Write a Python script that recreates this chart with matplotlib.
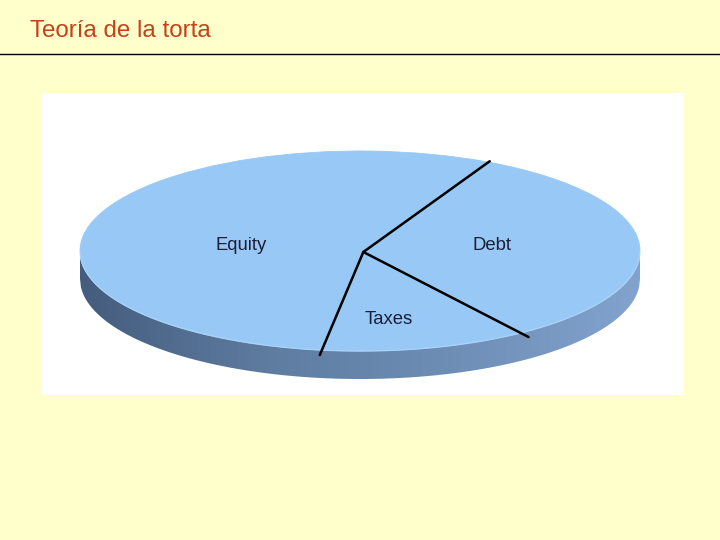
import numpy as np
import matplotlib
matplotlib.use("Agg")
import matplotlib.pyplot as plt
from matplotlib.patches import Rectangle, Polygon
from matplotlib.colors import LinearSegmentedColormap

# ---- data ----
title = "Teoría de la torta"
categories = ["Equity", "Taxes", "Debt"]
shares = [55.4, 11.9, 32.7]          # percent of the pie
start_angle = 62.7                  # degrees, first slice boundary

plt.rcParams['font.family'] = ['Liberation Sans', 'DejaVu Sans']

BG = '#FFFFCC'
TOP = '#98C8F5'

fig = plt.figure(figsize=(7.2, 5.4), dpi=100, facecolor=BG)

# slide layer in pixel coordinates
bg = fig.add_axes([0, 0, 1, 1])
bg.set_xlim(0, 720)
bg.set_ylim(540, 0)
bg.axis('off')
bg.set_zorder(0)
bg.add_patch(Rectangle((42, 93), 642, 302, facecolor='white', edgecolor='none'))
bg.plot([0, 720], [54, 54], color='black', lw=1.0)
bg.text(30, 37, title, fontsize=17.4, color='#C8401A', ha='left', va='baseline')

# pie layer: axes spanning the ellipse (x 80..640 px, y 151..381 px)
L, R, T, B = 80, 640, 151, 381
ax = fig.add_axes([L / 720, (540 - B) / 540, (R - L) / 720, (B - T) / 540])
ax.set_zorder(1)
depth = 0.28
ax.axis('off')

# 3D side with gradient
xs = np.linspace(-1, 1, 600)
lower = -np.sqrt(1 - xs ** 2) - depth
poly_pts = np.vstack([np.column_stack([xs, lower]),
                      [[1, 0], [-1, 0]]])
side = Polygon(poly_pts, closed=True, facecolor='none', edgecolor='none')
ax.add_patch(side)
cmap = LinearSegmentedColormap.from_list('side', ['#445C7E', '#5E7CA0', '#6E8EB6', '#82A3CE'])
grad = np.linspace(0, 1, 256).reshape(1, -1)
im = ax.imshow(grad, extent=(-1, 1, -1.35, 0.05), cmap=cmap, aspect='auto', zorder=1)
im.set_clip_path(side)

# top surface as a pie
wedges, _ = ax.pie(shares, colors=[TOP] * len(shares), startangle=start_angle,
                   counterclock=True, radius=1.0,
                   wedgeprops=dict(edgecolor=TOP, linewidth=0.6))
for w in wedges:
    w.set_zorder(2)

# lighter rim on the front edge
th = np.linspace(np.pi, 2 * np.pi, 300)
ax.plot(np.cos(th), np.sin(th), color='#A9D2F7', lw=1.0, zorder=3)

# slice boundaries
bounds = start_angle + 360 * np.concatenate([[0], np.cumsum(shares)[:-1]]) / sum(shares)
reach = [1.01, 1.05, 1.05]
for a, r in zip(bounds, reach):
    t = np.deg2rad(a)
    ax.plot([0.012, r * np.cos(t)], [-0.01, r * np.sin(t)], color='black', lw=1.8,
            solid_capstyle='round', zorder=4)

ax.set_aspect('auto')
ax.set_xlim(-1, 1)
ax.set_ylim(1 - (B - T) / 100, 1)

# labels overlay
label_pos = {"Equity": (241, 245), "Debt": (492, 245), "Taxes": (389, 320)}
ov = fig.add_axes([0, 0, 1, 1])
ov.set_xlim(0, 720)
ov.set_ylim(540, 0)
ov.axis('off')
ov.patch.set_alpha(0)
ov.set_zorder(2)
for name in categories:
    x, y = label_pos[name]
    ov.text(x, y, name, fontsize=13.3, color='#1E1E38', ha='center', va='center')

fig.savefig('out.png', dpi=100, facecolor=BG)
